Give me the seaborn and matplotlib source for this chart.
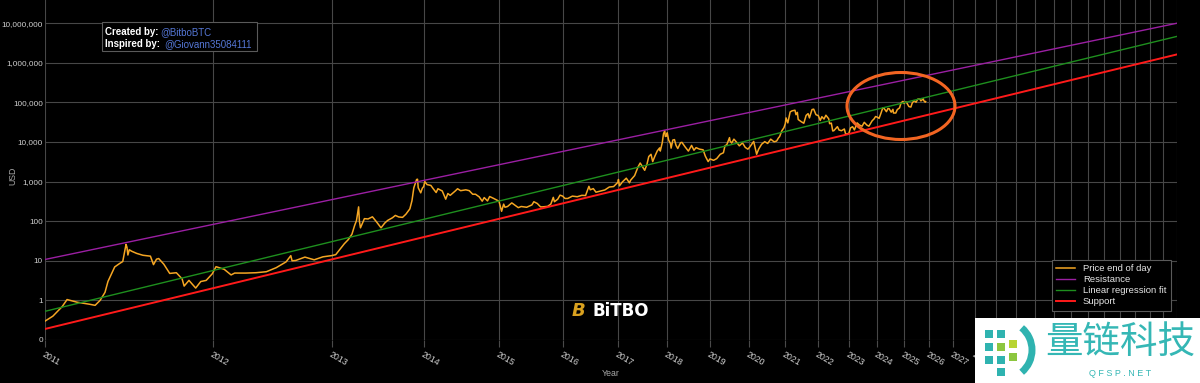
import numpy as np
import pandas as pd
import matplotlib
matplotlib.use('Agg')
import matplotlib.pyplot as plt
import seaborn as sns
from matplotlib.patches import Ellipse, Rectangle, Arc
from matplotlib.ticker import FixedLocator, FuncFormatter, NullLocator

# Estilo escuro
plt.style.use('dark_background')
plt.rcParams['font.family'] = ['Liberation Sans', 'DejaVu Sans']

GENESIS = pd.Timestamp('2009-01-03')

# Preco de fechamento (aproximado)
price_dates = [
    '2011-01-01', '2011-01-15', '2011-02-01', '2011-02-10', '2011-03-01', '2011-03-25', '2011-04-05',
    '2011-04-15', '2011-04-25', '2011-05-01', '2011-05-15', '2011-05-25', '2011-06-01', '2011-06-08',
    '2011-06-10', '2011-06-12', '2011-06-15', '2011-06-20', '2011-07-01', '2011-07-15', '2011-08-01',
    '2011-08-08', '2011-08-15', '2011-08-20', '2011-09-01', '2011-09-15', '2011-10-01', '2011-10-15',
    '2011-10-20', '2011-11-01', '2011-11-18', '2011-12-01', '2011-12-15', '2011-12-31',
    '2012-01-10', '2012-02-01', '2012-02-20', '2012-03-01', '2012-04-01', '2012-05-01', '2012-06-01',
    '2012-07-01', '2012-08-01', '2012-08-16', '2012-08-20', '2012-09-01', '2012-10-01', '2012-11-01',
    '2012-12-01', '2012-12-31',
    '2013-01-15', '2013-02-01', '2013-02-15', '2013-03-01', '2013-03-15', '2013-03-25', '2013-04-01',
    '2013-04-09', '2013-04-12', '2013-04-16', '2013-05-01', '2013-05-15', '2013-06-01', '2013-06-15',
    '2013-07-05', '2013-07-20', '2013-08-01', '2013-08-20', '2013-09-01', '2013-09-15', '2013-10-01',
    '2013-10-15', '2013-11-01', '2013-11-10', '2013-11-18', '2013-11-30', '2013-12-04', '2013-12-07',
    '2013-12-18', '2013-12-25', '2013-12-31',
    '2014-01-05', '2014-01-15', '2014-02-01', '2014-02-10', '2014-02-25', '2014-03-05', '2014-03-25',
    '2014-04-10', '2014-04-20', '2014-05-01', '2014-05-25', '2014-06-05', '2014-06-20', '2014-07-15',
    '2014-08-01', '2014-08-18', '2014-09-01', '2014-09-20', '2014-10-05', '2014-10-15', '2014-11-01',
    '2014-11-12', '2014-12-01', '2014-12-31',
    '2015-01-14', '2015-01-25', '2015-02-01', '2015-02-15', '2015-03-10', '2015-04-01', '2015-04-15',
    '2015-05-01', '2015-06-01', '2015-07-01', '2015-07-12', '2015-08-01', '2015-08-20', '2015-09-01',
    '2015-10-01', '2015-10-20', '2015-11-04', '2015-11-11', '2015-12-01', '2015-12-15', '2015-12-31',
    '2016-01-15', '2016-02-01', '2016-03-01', '2016-04-01', '2016-05-01', '2016-05-25', '2016-06-16',
    '2016-06-25', '2016-07-15', '2016-08-02', '2016-09-01', '2016-10-01', '2016-11-01', '2016-12-01',
    '2016-12-31',
    '2017-01-04', '2017-01-11', '2017-02-01', '2017-03-01', '2017-03-24', '2017-04-01', '2017-05-01',
    '2017-05-25', '2017-06-11', '2017-07-15', '2017-08-01', '2017-08-15', '2017-09-01', '2017-09-14',
    '2017-10-01', '2017-10-20', '2017-11-07', '2017-11-12', '2017-11-28', '2017-12-07', '2017-12-17',
    '2017-12-22', '2017-12-31',
    '2018-01-06', '2018-01-17', '2018-02-01', '2018-02-06', '2018-02-20', '2018-03-05', '2018-03-18',
    '2018-04-01', '2018-04-24', '2018-05-05', '2018-06-01', '2018-06-28', '2018-07-25', '2018-08-14',
    '2018-09-01', '2018-10-01', '2018-11-01', '2018-11-20', '2018-12-15', '2018-12-31',
    '2019-02-01', '2019-03-01', '2019-04-02', '2019-05-01', '2019-05-15', '2019-06-01', '2019-06-26',
    '2019-07-01', '2019-07-16', '2019-08-06', '2019-09-01', '2019-09-26', '2019-10-26', '2019-11-22',
    '2019-12-17', '2019-12-31',
    '2020-02-12', '2020-03-12', '2020-04-01', '2020-05-01', '2020-06-01', '2020-07-01', '2020-08-01',
    '2020-09-05', '2020-10-01', '2020-10-21', '2020-11-01', '2020-11-24', '2020-12-17', '2020-12-31',
    '2021-01-08', '2021-01-27', '2021-02-21', '2021-03-13', '2021-04-14', '2021-04-25', '2021-05-10',
    '2021-05-19', '2021-06-22', '2021-07-20', '2021-08-15', '2021-09-06', '2021-09-21', '2021-10-20',
    '2021-11-08', '2021-12-04', '2021-12-31',
    '2022-01-22', '2022-02-10', '2022-03-07', '2022-03-29', '2022-05-01', '2022-05-12', '2022-06-01',
    '2022-06-18', '2022-07-01', '2022-08-13', '2022-09-01', '2022-10-01', '2022-11-05', '2022-11-21',
    '2022-12-31',
    '2023-01-21', '2023-02-15', '2023-03-10', '2023-04-13', '2023-05-11', '2023-06-15', '2023-07-13',
    '2023-08-17', '2023-09-11', '2023-10-24', '2023-11-15', '2023-12-08', '2023-12-31',
    '2024-01-23', '2024-02-15', '2024-03-13', '2024-04-01', '2024-05-01', '2024-05-21', '2024-06-07',
    '2024-07-05', '2024-07-29', '2024-08-05', '2024-09-06', '2024-09-27', '2024-10-29', '2024-11-12',
    '2024-11-22', '2024-12-16', '2024-12-31',
    '2025-01-20', '2025-02-03', '2025-02-27', '2025-03-10', '2025-04-08', '2025-04-25', '2025-05-22',
    '2025-06-22', '2025-07-14', '2025-08-13', '2025-09-01', '2025-10-06', '2025-10-10', '2025-11-04',
    '2025-11-10',
]
price_values = [
    0.30, 0.40, 0.70, 1.05, 0.90, 0.80, 0.75,
    1.0, 1.6, 3.0, 7.0, 8.5, 9.6, 26.0,
    22, 14, 19, 17.5, 15.4, 13.8, 13.1,
    8.0, 11, 11.4, 8.2, 4.8, 5.0, 3.5,
    2.3, 3.2, 2.05, 3.0, 3.2, 4.7,
    7.1, 6.1, 4.4, 4.9, 4.9, 5.0, 5.3,
    6.7, 9.4, 13.5, 10.0, 10.2, 12.4, 10.6,
    12.6, 13.5,
    14.3, 20.4, 27, 34, 47, 78, 104,
    230, 100, 68, 116, 114, 129, 100,
    68, 90, 105, 122, 140, 128, 125,
    150, 205, 330, 700, 1130, 1150, 700,
    520, 680, 750,
    1000, 840, 800, 680, 530, 660, 580,
    360, 500, 450, 580, 660, 590, 620,
    590, 480, 480, 410, 320, 395, 325,
    420, 380, 320,
    178, 270, 225, 235, 290, 245, 220,
    235, 225, 258, 310, 280, 230, 230,
    237, 270, 400, 310, 360, 455, 430,
    375, 375, 430, 415, 450, 445, 760,
    620, 665, 540, 575, 615, 730, 750,
    960,
    1130, 780, 980, 1220, 930, 1080, 1420,
    2300, 2950, 1930, 2720, 4300, 4900, 3200,
    4400, 6000, 7100, 5900, 9800, 16000, 19300,
    13800, 14100,
    17100, 11200, 9100, 7000, 11200, 11500, 8200,
    6850, 9600, 9800, 7500, 5900, 8200, 6200,
    7200, 6600, 6350, 4400, 3200, 3740,
    3450, 3800, 4900, 5350, 8000, 8550, 12900,
    10600, 9400, 11800, 9800, 8000, 9500, 7300,
    6600, 7200,
    10350, 4900, 6600, 8800, 10200, 9200, 11800,
    10100, 10600, 12800, 13700, 19100, 23000, 29000,
    40600, 30400, 57500, 61200, 63500, 49000, 56000,
    37000, 32500, 29800, 47000, 52000, 40600, 65900,
    67500, 49000, 46300,
    35000, 43500, 38000, 47500, 38500, 29000, 30000,
    19000, 19300, 24400, 20100, 19300, 21300, 15800,
    16500,
    22800, 24300, 20200, 30400, 26900, 25000, 31400,
    26600, 25100, 34500, 37800, 44000, 42300,
    39500, 51900, 73100, 69700, 58300, 70000, 69300,
    56700, 66800, 54000, 53900, 65800, 72700, 88700,
    98900, 106000, 93400,
    102000, 101400, 84700, 78600, 76300, 94700, 111000,
    101000, 120000, 123300, 109200, 124700, 113000, 101000,
    105000,
]

# Linhas do modelo (extremos)
model_dates = ['2011-01-01', '2040-01-01']
resistance = [10.8, 10_000_000]
regression = [0.53, 4_650_000]
support = [0.19, 1_630_000]

years = list(range(2011, 2041))


def days_since(dates):
    return (pd.to_datetime(dates) - GENESIS).days.values


df_price = pd.DataFrame({'days': days_since(price_dates), 'usd': price_values})
model_days = days_since(model_dates)
df_res = pd.DataFrame({'days': model_days, 'usd': resistance})
df_reg = pd.DataFrame({'days': model_days, 'usd': regression})
df_sup = pd.DataFrame({'days': model_days, 'usd': support})

W, H = 1200, 383
fig = plt.figure(figsize=(W / 100, H / 100), dpi=100)
fig.patch.set_facecolor('#000000')


def fx(px):
    return px / W


def fy(py):
    return 1 - py / H


ax = fig.add_axes([fx(45), fy(340), (1177 - 45) / W, 340 / H])
ax.set_facecolor('#000000')

sns.lineplot(data=df_price, x='days', y='usd', ax=ax, color='#f5a623', lw=1.1, label='Price end of day')
sns.lineplot(data=df_res, x='days', y='usd', ax=ax, color='#9b1fa3', lw=1.0, label='Resistance')
sns.lineplot(data=df_reg, x='days', y='usd', ax=ax, color='#1e8f1e', lw=1.0, label='Linear regression fit')
sns.lineplot(data=df_sup, x='days', y='usd', ax=ax, color='#ff1a1a', lw=1.4, label='Support')

ax.set_xscale('log')
ax.set_yscale('log')
year_days = days_since([f'{y}-01-01' for y in years])
ax.set_xlim(year_days[0], year_days[-1])
ax.set_ylim(0.1, 10 ** 7.586)

ax.xaxis.set_major_locator(FixedLocator(year_days))
ax.xaxis.set_minor_locator(NullLocator())
ax.set_xticklabels([str(y) for y in years], rotation=-30, ha='left', va='top',
                   rotation_mode='anchor', fontsize=6.3, color='#d0d0d0')
ax.yaxis.set_major_locator(FixedLocator([10.0 ** k for k in range(-1, 8)]))
ax.yaxis.set_minor_locator(NullLocator())
ax.yaxis.set_major_formatter(FuncFormatter(lambda v, p: '0' if v < 1 else f'{v:,.0f}'))
ax.tick_params(axis='y', length=0, pad=1.5, labelsize=5.9, labelcolor='#d0d0d0')
ax.tick_params(axis='x', length=5, width=0.8, color='#4a4a4a', pad=2)

ax.grid(True, color='#474747', lw=0.8)
ax.set_axisbelow(True)
for s in ax.spines.values():
    s.set_visible(False)
ax.set_xlabel('')
ax.set_ylabel('')

leg = ax.legend(loc='upper left', bbox_to_anchor=((1047 - 45) / 1132, (340 - 255) / 340),
                fontsize=6.8, frameon=True, fancybox=False, framealpha=1,
                facecolor='#000000', edgecolor='#5a5a5a', labelcolor='#e6e6e6',
                handlelength=2.0, labelspacing=0.2, borderpad=0.5)
leg.get_frame().set_linewidth(0.8)

# Rotulos dos eixos
fig.text(fx(13), fy(176), 'USD', rotation=90, ha='center', va='center', fontsize=6.3, color='#aaaaaa')
fig.text(fx(611), fy(374), 'Year', ha='center', va='center', fontsize=6.3, color='#aaaaaa')

# Caixa de creditos
fig.add_artist(Rectangle((fx(102), fy(51)), (257 - 102) / W, 29 / H, transform=fig.transFigure,
                         facecolor='#000000', edgecolor='#5a5a5a', lw=0.8, zorder=5))
fig.text(fx(105), fy(32), 'Created by:', fontsize=7, fontweight='bold', color='white', va='center', zorder=6)
fig.text(fx(105), fy(44), 'Inspired by:', fontsize=7, fontweight='bold', color='white', va='center', zorder=6)
fig.text(fx(160), fy(32), '@BitboBTC', fontsize=7, color='#5577d6', va='center', zorder=6)
fig.text(fx(164), fy(44), '@Giovann35084111', fontsize=7, color='#5577d6', va='center', zorder=6)

# Circulo destacando o preco atual
fig.add_artist(Ellipse((fx(901), fy(106)), 108 / W, 67 / H, transform=fig.transFigure,
                       fill=False, edgecolor='#f26522', lw=2.2, zorder=6))

# Logo BITBO
fig.text(fx(578), fy(311), 'B', fontsize=13, fontweight='bold', style='italic', color='#d9a11f',
         ha='center', va='center', zorder=6, family='DejaVu Sans')
fig.text(fx(592), fy(311), 'BiTBO', fontsize=12, fontweight='bold', color='white',
         ha='left', va='center', zorder=6, family='DejaVu Sans')

# Marca d'agua
fig.add_artist(Rectangle((fx(975), 0), (W - 975) / W, (H - 318) / H, transform=fig.transFigure,
                         facecolor='white', edgecolor='none', zorder=7))
fig.add_artist(Arc((fx(1003), fy(350)), 58 / W, 58 / H, theta1=-75, theta2=75, transform=fig.transFigure,
                   color='#2fb3b0', lw=5, zorder=8))
for (sx, sy, c) in [(985, 330, '#2fb3b0'), (997, 330, '#2fb3b0'), (985, 343, '#2fb3b0'),
                    (997, 343, '#8cc63f'), (1009, 340, '#b8d432'), (985, 356, '#2fb3b0'),
                    (997, 356, '#2fb3b0'), (1009, 353, '#8cc63f'), (997, 368, '#2fb3b0')]:
    fig.add_artist(Rectangle((fx(sx), fy(sy + 8)), 8 / W, 8 / H, transform=fig.transFigure,
                             facecolor=c, edgecolor='none', zorder=8))
fig.text(fx(1120), fy(342), '量链科技', fontsize=27, color='#35b7b5', ha='center', va='center',
         family=['Noto Sans CJK SC', 'DejaVu Sans'], zorder=9)
fig.text(fx(1120), fy(373), 'Q F S P . N E T', fontsize=6.5, color='#35b7b5', ha='center', va='center', zorder=9)

fig.savefig('out.png', dpi=100, facecolor='#000000')
